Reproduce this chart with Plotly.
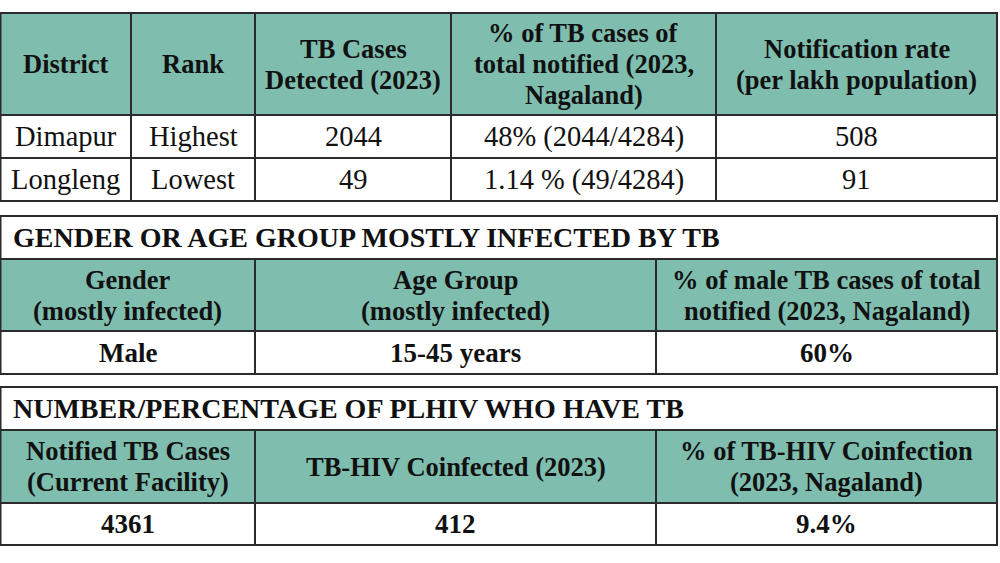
import plotly.graph_objects as go

# ---- table 1: districts with highest / lowest TB detection ----
t1_header = ["District", "Rank", "TB Cases<br>Detected (2023)",
             "% of TB cases of<br>total notified (2023,<br>Nagaland)",
             "Notification rate<br>(per lakh population)"]
districts = ["Dimapur", "Longleng"]
ranks = ["Highest", "Lowest"]
tb_cases = [2044, 49]
pct_of_total = ["48% (2044/4284)", "1.14 % (49/4284)"]
notif_rate = [508, 91]

# ---- table 2: gender / age group ----
t2_title = "GENDER OR AGE GROUP MOSTLY INFECTED BY TB"
t2_header = ["Gender<br>(mostly infected)", "Age Group<br>(mostly infected)",
             "% of male TB cases of total<br>notified (2023, Nagaland)"]
gender = ["Male"]
age_group = ["15-45 years"]
male_pct = ["60%"]

# ---- table 3: PLHIV with TB ----
t3_title = "NUMBER/PERCENTAGE OF PLHIV WHO HAVE TB"
t3_header = ["Notified TB Cases<br>(Current Facility)", "TB-HIV Coinfected (2023)",
             "% of TB-HIV Coinfection<br>(2023, Nagaland)"]
notified_cases = [4361]
coinfected = [412]
coinfection_pct = ["9.4%"]

# styling
TEAL = "#7fbeaf"
LINE = "#2b2b2b"
FONT = "Liberation Serif"
LINE_GAP = 31

fig = go.Figure()


def cell(x0, x1, y0, y1, text, fill="white", bold=False, align="center", size=28):
    fig.add_shape(type="rect", x0=x0, x1=x1, y0=y0, y1=y1,
                  fillcolor=fill, line=dict(color=LINE, width=2), layer="below")
    lines = str(text).split("<br>")
    yc = (y0 + y1) / 2
    for i, ln in enumerate(lines):
        y = yc + (i - (len(lines) - 1) / 2) * LINE_GAP
        fig.add_annotation(
            x=(x0 + x1) / 2 if align == "center" else x0 + 10, y=y,
            text=f"<b>{ln}</b>" if bold else ln,
            xanchor="center" if align == "center" else "left", yanchor="middle",
            showarrow=False, font=dict(family=FONT, size=size, color="#111111"))


def table(cols, rows, header, body, title=None, body_bold=False):
    r = 0
    if title:
        cell(cols[0], cols[-1], rows[0], rows[1], title, bold=True, align="left", size=28)
        r = 1
    for j, h in enumerate(header):
        cell(cols[j], cols[j + 1], rows[r], rows[r + 1], h, fill=TEAL, bold=True, size=26.5)
    for i, row in enumerate(body):
        for j, v in enumerate(row):
            cell(cols[j], cols[j + 1], rows[r + 1 + i], rows[r + 2 + i], v,
                 bold=body_bold, size=27 if body_bold else 28.5)


t1_body = list(zip(districts, ranks, tb_cases, pct_of_total, notif_rate))
table([0.5, 131, 255, 451, 716, 997], [13, 115, 158, 201], t1_header, t1_body)

t2_body = list(zip(gender, age_group, male_pct))
table([0.5, 255, 656, 997], [216, 259, 331, 374], t2_header, t2_body,
      title=t2_title, body_bold=True)

t3_body = list(zip(notified_cases, coinfected, coinfection_pct))
table([0.5, 255, 656, 997], [387, 430, 503, 545], t3_header, t3_body,
      title=t3_title, body_bold=True)

fig.update_layout(
    width=1000, height=563,
    margin=dict(l=0, r=0, t=0, b=0),
    paper_bgcolor="white", plot_bgcolor="white",
    xaxis=dict(range=[0, 1000], visible=False, fixedrange=True),
    yaxis=dict(range=[563, 0], visible=False, fixedrange=True),
    showlegend=False,
)

# page body has an 8px default margin; drop it so the 1000x563 figure fills the window
fig.write_html("out.html", config={"displayModeBar": False},
               post_script="document.body.style.margin='0';document.body.style.overflow='hidden';")
